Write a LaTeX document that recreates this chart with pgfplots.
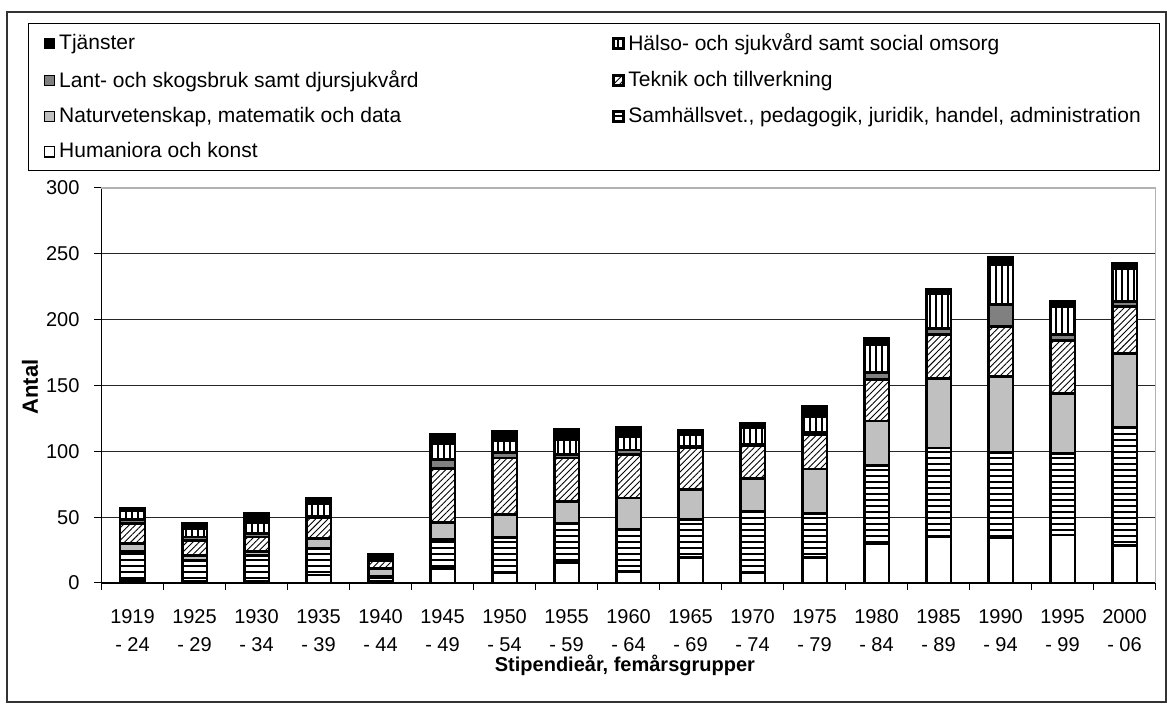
\documentclass[border=0pt]{standalone}
\usepackage{fontspec}
\setmainfont{Liberation Sans}
\usepackage{pgfplots}
\pgfplotsset{compat=1.18}
\usepackage{pgfplotstable}
\usetikzlibrary{patterns.meta}

\pgfplotstableread{
x  hum  sam   nat   tek   lan   hal   tja
0  2    22    6     15    3     7     2
1  1    16    4     11    3     6     4
2  1    20    3     11    2.5   8     7
3  6    20    7.5   16    1     10    4
4  1    4     6     6     0     1     4
5  11   22    13    41    7     12    7
6  8    26.5  17.5  43    4     9     7.5
7  15.5 30    16.5  33    2.5   11.5  7.5
8  9    31.5  24    33    3.5   10    7
9  19.5 29    22.5  31.5  1     9     3.5
10 8    46.5  25    25    1     12.5  3
11 19.5 33    34    26.5  1     12.5  7.5
12 30   59    34    31.5  5.5   21    5
13 35   67.5  53    33.5  4     27    3
14 34.5 64.5  58    38    16.5  30.5  5
15 36.5 62    45.5  40    4.5   21.5  3.5
16 28.5 89.5  56    36    4     25    4
}\data

\definecolor{natgray}{RGB}{192,192,192}
\definecolor{langray}{RGB}{128,128,128}

\begin{document}
\begin{tikzpicture}
\begin{axis}[
  width=527pt, height=197.5pt, scale only axis,
  xmin=-0.5, xmax=16.5, ymin=0, ymax=300,
  ybar stacked, bar width=0.4,
  clip=false,
  axis lines*=left,
  axis line style={-, black, line width=0.6pt},
  ytick={0,50,...,300},
  xtick={0,...,16},
  xticklabels={{1919\\[2pt]- 24},{1925\\[2pt]- 29},{1930\\[2pt]- 34},{1935\\[2pt]- 39},{1940\\[2pt]- 44},{1945\\[2pt]- 49},{1950\\[2pt]- 54},{1955\\[2pt]- 59},{1960\\[2pt]- 64},{1965\\[2pt]- 69},{1970\\[2pt]- 74},{1975\\[2pt]- 79},{1980\\[2pt]- 84},{1985\\[2pt]- 89},{1990\\[2pt]- 94},{1995\\[2pt]- 99},{2000\\[2pt]- 06}},
  minor xtick={-0.5,0.5,...,16.5},
  major x tick style={draw=none},
  tick align=outside,
  major tick length=3.5pt, minor tick length=3.5pt,
  tick style={black, line width=0.5pt},
  ymajorgrids,
  grid style={black!85, line width=0.6pt},
  /pgf/number format/assume math mode=true,
  tick label style={font=\fontsize{10}{12}\selectfont},
  xticklabel style={align=center, anchor=north, yshift=-6pt},
  yticklabel style={xshift=-4pt},
  xlabel={Stipendieår, femårsgrupper},
  ylabel={Antal},
  xlabel style={at={(axis description cs:0.4966,-0.208)}, anchor=center, font=\bfseries\fontsize{10}{12}\selectfont},
  ylabel style={at={(axis description cs:-0.0678,0.496)}, anchor=center, font=\bfseries\fontsize{11}{13}\selectfont},
  legend columns=2,
  reverse legend,
  legend cell align=left,
  legend image code/.code={\draw[#1, line width=0.6pt] (0pt,-2.6pt) rectangle (5.2pt,2.6pt);},
  legend style={at={(axis description cs:-0.0697,1.4177)}, anchor=north west,
    draw=black, line width=0.6pt, font=\fontsize{10.5}{12.5}\selectfont,
    inner xsep=7.5pt, inner ysep=3pt, row sep=4.5pt,
    /tikz/every even column/.append style={column sep=95pt}},
]
\addplot[draw=black, line width=1.4pt, fill=white] table[x=x, y=hum] {\data};
\addlegendentry{Humaniora och konst}
\addplot[draw=black, line width=1.4pt, preaction={fill=white}, pattern={Lines[angle=0,distance=3pt,line width=1pt]}] table[x=x, y=sam] {\data};
\addlegendentry{Samhällsvet., pedagogik, juridik, handel, administration}
\addplot[draw=black, line width=1.4pt, fill=natgray] table[x=x, y=nat] {\data};
\addlegendentry{Naturvetenskap, matematik och data}
\addplot[draw=black, line width=1.4pt, preaction={fill=white}, pattern={Lines[angle=45,distance=2.2pt,line width=0.45pt]}] table[x=x, y=tek] {\data};
\addlegendentry{Teknik och tillverkning}
\addplot[draw=black, line width=1.4pt, fill=langray] table[x=x, y=lan] {\data};
\addlegendentry{Lant- och skogsbruk samt djursjukvård}
\addplot[draw=black, line width=1.4pt, preaction={fill=white}, pattern={Lines[angle=90,distance=3pt,line width=1.3pt]}] table[x=x, y=hal] {\data};
\addlegendentry{Hälso- och sjukvård samt social omsorg}
\addplot[draw=black, line width=1.4pt, fill=black] table[x=x, y=tja] {\data};
\addlegendentry{Tjänster}
\draw[black!30, line width=0.7pt] (rel axis cs:0,1) -- (rel axis cs:1,1) -- (rel axis cs:1,0);
\draw[black!80, line width=0.6pt] (rel axis cs:-0.0897,-0.3013) rectangle (rel axis cs:1.0100,1.4456);
\path (rel axis cs:-0.0963,-0.3063) rectangle (rel axis cs:1.0109,1.4759);
\end{axis}
\end{tikzpicture}
\end{document}
